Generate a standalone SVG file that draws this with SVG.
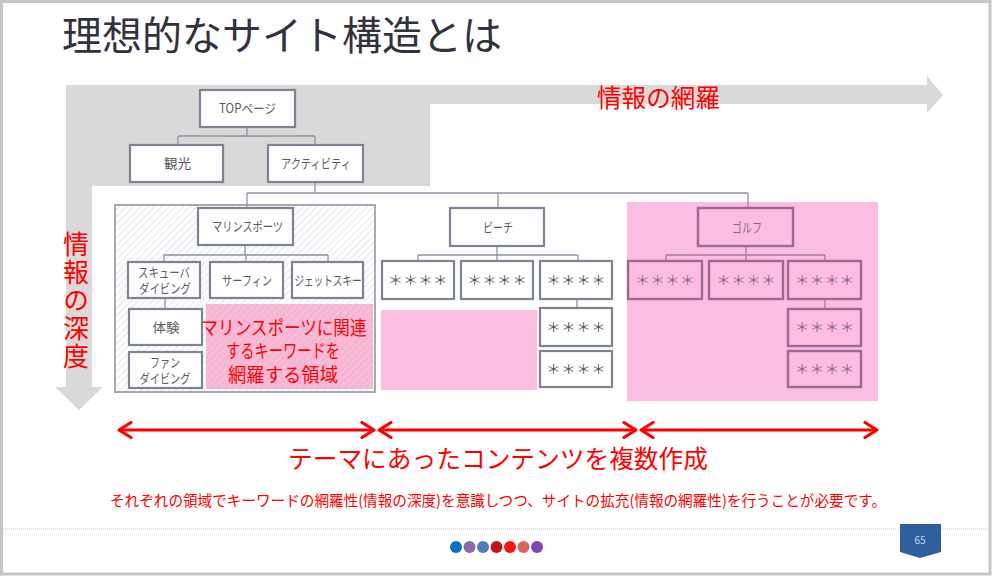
<svg xmlns="http://www.w3.org/2000/svg" width="993" height="577" viewBox="0 0 993 577">
<style>
text{font-family:"Noto Sans CJK JP","Noto Sans",sans-serif;}
.node{fill:#fff;stroke:#7d8393;stroke-width:2.2;}
.gnode{fill:none;stroke:#9a6a93;stroke-width:2.4;}
.lbl{font-size:13px;fill:#5a5a60;text-anchor:middle;}
.glbl{font-size:13px;fill:#8e6a89;text-anchor:middle;}
.conn{fill:none;stroke:#8c93a3;stroke-width:1.3;}
.gconn{fill:none;stroke:#a27d9c;stroke-width:1.3;}
.red{fill:#f00;}
.pink{fill:#fbbde0;}
.redarrow{stroke:#f00;stroke-width:3.2;fill:none;}
</style>
<defs>
<pattern id="hatch" patternUnits="userSpaceOnUse" width="5" height="5" patternTransform="rotate(45)">
<rect width="5" height="5" fill="#fff"/>
<line x1="0" y1="0" x2="0" y2="5" stroke="#d3d6de" stroke-width="1.2"/>
</pattern>
<pattern id="hatch2" patternUnits="userSpaceOnUse" width="5" height="5" patternTransform="rotate(45)">
<line x1="0" y1="0" x2="0" y2="5" stroke="#fff" stroke-width="1" opacity="0.35"/>
</pattern>
<marker id="chev" viewBox="0 0 16 18" refX="14" refY="9" markerWidth="16" markerHeight="18" markerUnits="userSpaceOnUse" orient="auto-start-reverse">
<path d="M2,1.5 L14,9 L2,16.5" fill="none" stroke="#f00" stroke-width="3.2" stroke-linecap="round" stroke-linejoin="round"/>
</marker>
</defs>

<!-- slide frame -->
<rect x="0" y="0" width="993" height="577" fill="#fff"/>
<rect x="1.5" y="1.5" width="988.5" height="572.5" fill="none" stroke="#c6c6c6" stroke-width="3"/>

<!-- title -->
<text x="62" y="50" font-size="40" fill="#30323e">理想的なサイト構造とは</text>

<!-- gray L arrows -->
<path d="M66,85 L927,85 L927,76 L943,95 L927,113 L927,104 L430,104 L430,186 L92,186 L92,387 L103,387 L79,410 L55,387 L66,387 Z" fill="#d9d9d9"/>
<text x="597" y="107" font-size="25" class="red" textLength="123" lengthAdjust="spacingAndGlyphs">情報の網羅</text>
<text x="76" y="231" font-size="26" class="red" writing-mode="vertical-rl" letter-spacing="2">情報の深度</text>

<!-- group areas -->
<g id="area-marine">
<rect x="115" y="205" width="260" height="187" fill="url(#hatch)" stroke="#a8a8ad" stroke-width="2"/>
<rect x="206" y="304" width="167" height="85" fill="#f6b6d3"/>
<rect x="206" y="304" width="167" height="85" fill="url(#hatch2)"/>
<text class="red" font-size="19" text-anchor="middle"><tspan x="284" y="335" textLength="165" lengthAdjust="spacingAndGlyphs">マリンスポーツに関連</tspan><tspan x="283" y="358" textLength="114" lengthAdjust="spacingAndGlyphs">するキーワードを</tspan><tspan x="283" y="382" textLength="110" lengthAdjust="spacingAndGlyphs">網羅する領域</tspan></text>
</g>
<g id="area-beach">
<rect x="381" y="310" width="156" height="80" class="pink"/>
</g>
<g id="area-golf">
<rect x="627" y="202" width="251" height="199" class="pink"/>
</g>

<!-- connectors -->
<g id="connectors">
<path class="conn" d="M247,127 V136 M178,136 H315 M178,136 V145 M315,136 V145"/>
<path class="conn" d="M315,182 V193 M247,193 H748 M247,193 V208 M498,193 V208 M748,193 V208"/>
<path class="conn" d="M245,245 V255 M164,255 H328 M164,255 V262 M246,255 V262 M328,255 V262 M165,298 V309"/>
<path class="conn" d="M497,246 V255 M418,255 H578 M418,255 V261 M497,255 V261 M578,255 V261 M577,299 V308"/>
<path class="gconn" d="M746,246 V255 M666,255 H825 M666,255 V261 M746,255 V261 M825,255 V261 M825,299 V309"/>
</g>

<!-- nodes -->
<g id="n-top"><rect class="node" x="200" y="90" width="95" height="37"/><text class="lbl" x="247.5" y="113" textLength="57" lengthAdjust="spacingAndGlyphs">TOPページ</text></g>
<g id="n-kanko"><rect class="node" x="130" y="145" width="93" height="37"/><text class="lbl" x="177.5" y="168" textLength="27" lengthAdjust="spacingAndGlyphs">観光</text></g>
<g id="n-activity"><rect class="node" x="268" y="145" width="95" height="37"/><text class="lbl" x="316" y="168" textLength="70" lengthAdjust="spacingAndGlyphs">アクティビティ</text></g>

<g id="n-marine"><rect class="node" x="198" y="208" width="95" height="37"/><text class="lbl" x="247.5" y="231" textLength="71" lengthAdjust="spacingAndGlyphs">マリンスポーツ</text></g>
<g id="n-scuba"><rect class="node" x="128" y="262" width="72" height="36"/><text class="lbl"><tspan x="164" y="277" textLength="52" lengthAdjust="spacingAndGlyphs">スキューバ</tspan><tspan x="165" y="293" textLength="52" lengthAdjust="spacingAndGlyphs">ダイビング</tspan></text></g>
<g id="n-surf"><rect class="node" x="210" y="262" width="73" height="36"/><text class="lbl" x="247" y="285" textLength="50" lengthAdjust="spacingAndGlyphs">サーフィン</text></g>
<g id="n-jet"><rect class="node" x="292" y="262" width="71" height="36"/><text class="lbl" x="328" y="285" textLength="67" lengthAdjust="spacingAndGlyphs">ジェットスキー</text></g>
<g id="n-taiken"><rect class="node" x="129" y="309" width="73" height="36"/><text class="lbl" x="166" y="332" textLength="27" lengthAdjust="spacingAndGlyphs">体験</text></g>
<g id="n-fun"><rect class="node" x="129" y="352" width="73" height="36"/><text class="lbl"><tspan x="165" y="367" textLength="30" lengthAdjust="spacingAndGlyphs">ファン</tspan><tspan x="165" y="383" textLength="51" lengthAdjust="spacingAndGlyphs">ダイビング</tspan></text></g>

<g id="n-beach"><rect class="node" x="450" y="208" width="94" height="38"/><text class="lbl" x="498" y="232" textLength="30" lengthAdjust="spacingAndGlyphs">ビーチ</text></g>
<g id="n-b1"><rect class="node" x="382" y="261" width="72" height="38"/><text class="lbl" x="418" y="285" textLength="60" lengthAdjust="spacingAndGlyphs">＊＊＊＊</text></g>
<g id="n-b2"><rect class="node" x="461" y="261" width="72" height="38"/><text class="lbl" x="497" y="285" textLength="60" lengthAdjust="spacingAndGlyphs">＊＊＊＊</text></g>
<g id="n-b3"><rect class="node" x="540" y="261" width="72" height="38"/><text class="lbl" x="576" y="285" textLength="60" lengthAdjust="spacingAndGlyphs">＊＊＊＊</text></g>
<g id="n-b4"><rect class="node" x="540" y="308" width="72" height="38"/><text class="lbl" x="576" y="332" textLength="60" lengthAdjust="spacingAndGlyphs">＊＊＊＊</text></g>
<g id="n-b5"><rect class="node" x="540" y="351" width="72" height="36"/><text class="lbl" x="576" y="374" textLength="60" lengthAdjust="spacingAndGlyphs">＊＊＊＊</text></g>

<g id="n-golf"><rect class="gnode" x="698" y="208" width="95" height="38"/><text class="glbl" x="747" y="232" textLength="30" lengthAdjust="spacingAndGlyphs">ゴルフ</text></g>
<g id="n-g1"><rect class="gnode" x="628" y="261" width="74" height="38"/><text class="glbl" x="665" y="285" textLength="60" lengthAdjust="spacingAndGlyphs">＊＊＊＊</text></g>
<g id="n-g2"><rect class="gnode" x="709" y="261" width="74" height="38"/><text class="glbl" x="746" y="285" textLength="60" lengthAdjust="spacingAndGlyphs">＊＊＊＊</text></g>
<g id="n-g3"><rect class="gnode" x="788" y="261" width="73" height="38"/><text class="glbl" x="824.5" y="285" textLength="60" lengthAdjust="spacingAndGlyphs">＊＊＊＊</text></g>
<g id="n-g4"><rect class="gnode" x="788" y="309" width="73" height="37"/><text class="glbl" x="824.5" y="332" textLength="60" lengthAdjust="spacingAndGlyphs">＊＊＊＊</text></g>
<g id="n-g5"><rect class="gnode" x="788" y="351" width="73" height="36"/><text class="glbl" x="824.5" y="374" textLength="60" lengthAdjust="spacingAndGlyphs">＊＊＊＊</text></g>

<!-- red double arrows -->
<g id="theme-arrows">
<line class="redarrow" x1="119" y1="430" x2="374" y2="430" marker-start="url(#chev)" marker-end="url(#chev)"/>
<line class="redarrow" x1="379" y1="430" x2="636" y2="430" marker-start="url(#chev)" marker-end="url(#chev)"/>
<line class="redarrow" x1="641" y1="430" x2="877" y2="430" marker-start="url(#chev)" marker-end="url(#chev)"/>
</g>
<text x="288" y="468" font-size="25" class="red" textLength="420" lengthAdjust="spacingAndGlyphs">テーマにあったコンテンツを複数作成</text>
<text x="110" y="506" font-size="15" class="red" textLength="776" lengthAdjust="spacingAndGlyphs">それぞれの領域でキーワードの網羅性(情報の深度)を意識しつつ、サイトの拡充(情報の網羅性)を行うことが必要です。</text>

<!-- footer -->
<line x1="3" y1="529" x2="990" y2="529" stroke="#c4c4c4" stroke-width="1" stroke-dasharray="1,1"/>
<g id="dots">
<circle cx="456" cy="547" r="6" fill="#0a6fc2"/>
<circle cx="469.5" cy="547" r="6" fill="#8a6aa8"/>
<circle cx="483" cy="547" r="6" fill="#4f7cbf"/>
<circle cx="496.5" cy="547" r="6" fill="#c0141b"/>
<circle cx="510" cy="547" r="6" fill="#ff1414"/>
<circle cx="523.5" cy="547" r="6" fill="#d9665a"/>
<circle cx="537" cy="547" r="6" fill="#8442b2"/>
</g>
<g id="page-badge">
<path d="M900,524 H941 V552 L920,558 L900,552 Z" fill="#2f5f9f"/>
<text x="920" y="544" font-size="10" fill="#c9d6ea" text-anchor="middle">65</text>
</g>
</svg>
